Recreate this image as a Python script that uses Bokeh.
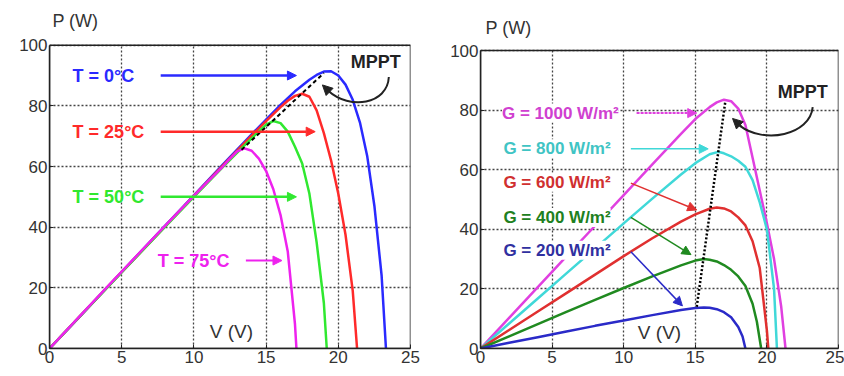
from bokeh.plotting import figure
from bokeh.models import Range1d, Label, Arrow, NormalHead, FixedTicker, BoxAnnotation
from bokeh.layouts import row
from bokeh.embed import file_html
from bokeh.resources import INLINE

# ---------------- data: left panel (temperature) ----------------
t0_v = [0, 2, 4, 6, 8, 10, 12, 14, 15, 16, 17, 18, 18.5, 19, 19.5, 20, 20.5, 21, 21.5, 22, 22.5, 23, 23.3]
t0_p = [0, 10, 20.2, 30.3, 40.4, 50.5, 60.6, 70.6, 75.5, 80.3, 84.8, 88.6, 90.2, 91.3, 91.4, 90, 87, 82, 74.5, 63.5, 47, 24, 0]
t25_v = [0, 2, 4, 6, 8, 10, 12, 14, 15, 16, 16.5, 17, 17.5, 18, 18.5, 19, 19.5, 20, 20.5, 21, 21.3]
t25_p = [0, 10.1, 20.2, 30.2, 40.3, 50.3, 60.3, 70.2, 75, 79.6, 81.7, 83.3, 84, 83, 78.5, 71, 62, 51, 37.5, 19, 0]
t50_v = [0, 2, 4, 6, 8, 10, 12, 13, 14, 14.5, 15, 15.5, 16, 16.5, 17, 17.5, 18, 18.5, 19, 19.2]
t50_p = [0, 10.1, 20.1, 30.1, 40.1, 50, 59.8, 64.6, 69.3, 71.6, 73.8, 75, 74.3, 71.5, 66.5, 61, 51, 35, 15, 0]
t75_v = [0, 2, 4, 6, 8, 10, 11, 12, 12.5, 13, 13.5, 14, 14.5, 15, 15.5, 16, 16.5, 17, 17.1]
t75_p = [0, 10.2, 20.3, 30.4, 40.4, 50.3, 55.2, 60, 62.6, 65, 66, 65.2, 62.6, 58.5, 52.5, 44, 32, 8, 0]
mppt_t_v = [13.3, 19.0]
mppt_t_p = [65.5, 90.8]
temp_labels = ["T = 0°C", "T = 25°C", "T = 50°C", "T = 75°C"]

# ---------------- data: right panel (irradiance) ----------------
g1000_v = [0, 2, 4, 6, 8, 10, 12, 14, 15, 16, 16.5, 17, 17.5, 18, 18.5, 19, 19.5, 20, 20.5, 21, 21.3]
g1000_p = [0, 10.3, 20.6, 30.9, 41.2, 51.5, 61.8, 72, 77, 81, 82.6, 83.5, 83, 80.5, 75, 64, 53, 42, 30, 14, 0]
g800_v = [0, 2, 4, 6, 8, 10, 12, 14, 15, 16, 16.6, 17, 17.5, 18, 18.5, 19, 19.5, 20, 20.5, 20.7]
g800_p = [0, 8.4, 16.8, 25.2, 33.6, 42, 50.3, 58.4, 62.2, 65.2, 66, 65.5, 64.5, 63, 61, 56.5, 49, 40, 20, 0]
g600_v = [0, 2, 4, 6, 8, 10, 12, 14, 15, 16, 16.5, 17, 17.5, 18, 18.5, 19, 19.5, 20, 20.1]
g600_p = [0, 6.2, 12.4, 18.6, 24.8, 31, 37, 42.6, 45, 46.9, 47.3, 47, 46, 44, 41.3, 36, 27, 6, 0]
g400_v = [0, 2, 4, 6, 8, 10, 12, 14, 15, 15.6, 16, 16.5, 17, 17.5, 18, 18.5, 19, 19.3, 19.6]
g400_p = [0, 4.1, 8.2, 12.3, 16.3, 20.3, 24.2, 27.9, 29.5, 30, 29.8, 29.2, 28, 26.4, 24.2, 21, 15, 9, 0]
g200_v = [0, 2, 4, 6, 8, 10, 12, 14, 15, 15.6, 16, 16.5, 17, 17.5, 18, 18.3, 18.5]
g200_p = [0, 1.9, 3.8, 5.7, 7.6, 9.4, 11.2, 12.9, 13.6, 13.8, 13.7, 13.2, 12.2, 10.5, 7.2, 4, 0]
mppt_g_v = [15.1, 17.1]
mppt_g_p = [14.0, 83.0]
irr_labels = ["G = 1000 W/m²", "G = 800 W/m²", "G = 600 W/m²", "G = 400 W/m²", "G = 200 W/m²"]

x_ticks = [0, 5, 10, 15, 20, 25]
y_ticks = [0, 20, 40, 60, 80, 100]
X_MAX, Y_MAX = 25, 100

FONT = "Liberation Sans"
GRID_COLOR = "#444444"


def base_fig(width, bl, br, bb, y_top):
    p = figure(width=width, height=376, output_backend="svg", toolbar_location=None,
               x_range=Range1d(0, X_MAX), y_range=Range1d(0, y_top),
               min_border_left=bl, min_border_right=br, min_border_top=8, min_border_bottom=bb)
    p.xaxis.ticker = FixedTicker(ticks=x_ticks)
    p.yaxis.ticker = FixedTicker(ticks=y_ticks)
    p.yaxis.bounds = (0, Y_MAX)
    for ax in (p.xaxis, p.yaxis):
        ax.major_label_text_font = FONT
        ax.major_label_text_font_size = "17px"
        ax.major_label_text_color = "#333333"
        ax.major_tick_in = 4
        ax.major_tick_out = 0
        ax.minor_tick_line_color = None
        ax.axis_line_color = "#222222"
        ax.axis_line_width = 1.5
        ax.major_tick_line_color = "#222222"
        ax.major_label_standoff = 2
    p.grid.grid_line_color = GRID_COLOR
    p.grid.grid_line_dash = "2 2"
    p.grid.grid_line_width = 1.3
    # vertical grid lines must stop at the frame top (P = 100)
    xg = p.xgrid[0]
    if "cross_bounds" in xg.properties():
        xg.cross_bounds = (0, Y_MAX)
    else:
        xg.visible = False
        inner = x_ticks[1:-1]
        p.segment(x0=inner, y0=[0] * len(inner), x1=inner, y1=[Y_MAX] * len(inner),
                  line_color=GRID_COLOR, line_dash="2 2", line_width=1.3, level="underlay")
    p.outline_line_color = None
    p.background_fill_color = "white"
    p.add_layout(BoxAnnotation(left=0, right=X_MAX, bottom=0, top=Y_MAX, fill_color=None,
                               line_color="#222222", line_width=1.5, line_alpha=1))
    return p


def arrow(p, x0, y0, x1, y1, color, width=2.5, dash="solid", size=9):
    p.add_layout(Arrow(end=NormalHead(size=size, fill_color=color, line_color=color),
                       x_start=x0, y_start=y0, x_end=x1, y_end=y1,
                       line_color=color, line_width=width, line_dash=dash))


def label(p, x, y, text, color, bold=True, size="18px", bg=None, align="left"):
    p.add_layout(Label(x=x, y=y, text=text, text_color=color, text_font=FONT,
                       text_font_size=size, text_font_style="bold" if bold else "normal",
                       text_baseline="middle", text_align=align,
                       background_fill_color=bg))


# ---------------- left panel ----------------
p1 = base_fig(420, 49, 10, 26, 112.1)
c_blue, c_red, c_green, c_mag = "#2a2aff", "#ff2a2a", "#30e830", "#ee22ee"
p1.line(t0_v, t0_p, line_color=c_blue, line_width=2.5)
p1.line(t25_v, t25_p, line_color=c_red, line_width=2.5)
p1.line(t50_v, t50_p, line_color=c_green, line_width=2.5)
p1.line(t75_v, t75_p, line_color=c_mag, line_width=2.5)
p1.line(mppt_t_v, mppt_t_p, line_color="black", line_width=2, line_dash="4 3")

label(p1, 1.6, 90, temp_labels[0], c_blue)
arrow(p1, 7.7, 90, 17.1, 90, c_blue)
label(p1, 1.6, 71.5, temp_labels[1], c_red)
arrow(p1, 7.7, 71.5, 18.4, 71.5, c_red)
label(p1, 1.6, 50, temp_labels[2], c_green)
arrow(p1, 7.7, 50, 17.1, 50, c_green)
label(p1, 7.5, 29, temp_labels[3], c_mag)
arrow(p1, 13.6, 29, 16.1, 29, c_mag, width=2)

label(p1, 22.6, 94.5, "MPPT", "#222222", align="center")
p1.bezier(x0=23.5, y0=89.5, x1=19.3, y1=85.0, cx0=23.4, cy0=80.5, cx1=20.8, cy1=78.5,
          line_color="#222222", line_width=2)
arrow(p1, 19.4, 84.6, 18.9, 86.9, "#222222", width=2, size=10)
label(p1, 12.6, 5.5, "V (V)", "#333333", bold=False, size="19px", align="center")
label(p1, 0.2, 107.9, "P (W)", "#333333", bold=False, align="left")

# ---------------- right panel ----------------
p2 = base_fig(424, 60, 6, 28, 114.1)
g_mag, g_cyan, g_red, g_green, g_blue = "#e040e0", "#40d8d8", "#e03030", "#208a20", "#2a2ac8"
p2.line(g1000_v, g1000_p, line_color=g_mag, line_width=2.5)
p2.line(g800_v, g800_p, line_color=g_cyan, line_width=2.5)
p2.line(g600_v, g600_p, line_color=g_red, line_width=2.5)
p2.line(g400_v, g400_p, line_color=g_green, line_width=2.5)
p2.line(g200_v, g200_p, line_color=g_blue, line_width=2.5)
p2.line(mppt_g_v, mppt_g_p, line_color="black", line_width=2.5, line_dash="2 2")

label(p2, 1.5, 79, irr_labels[0], "#d040d0", size="17px", bg="white")
arrow(p2, 10.9, 79, 15.1, 79, g_mag, width=2, dash="3 1")
label(p2, 1.6, 67, irr_labels[1], "#40c4c4", size="17px", bg="white")
arrow(p2, 10.5, 67, 15.9, 67, g_cyan, width=1.5)
label(p2, 1.6, 55.8, irr_labels[2], "#d03030", size="17px", bg="white")
arrow(p2, 10.5, 55.5, 15.1, 46.5, g_red, width=1.5)
label(p2, 1.6, 44, irr_labels[3], "#208020", size="17px", bg="white")
arrow(p2, 10.5, 44, 14.7, 31.5, g_green, width=1.5)
label(p2, 1.6, 33, irr_labels[4], "#3030a0", size="17px", bg="white")
arrow(p2, 10.5, 32.5, 14.1, 14.3, g_blue, width=1.5)

label(p2, 22.5, 86, "MPPT", "#222222", align="center")
p2.bezier(x0=23.2, y0=81, x1=18.1, y1=74.8, cx0=23.0, cy0=71.5, cx1=19.8, cy1=68.5,
          line_color="#222222", line_width=2)
arrow(p2, 18.2, 74.5, 17.6, 77.2, "#222222", width=2, size=10)
label(p2, 12.5, 5.5, "V (V)", "#333333", bold=False, size="19px", align="center")
label(p2, 0.35, 107.7, "P (W)", "#333333", bold=False, align="left")

layout = row(p1, p2)
open("out.html", "w").write(file_html(layout, INLINE))
